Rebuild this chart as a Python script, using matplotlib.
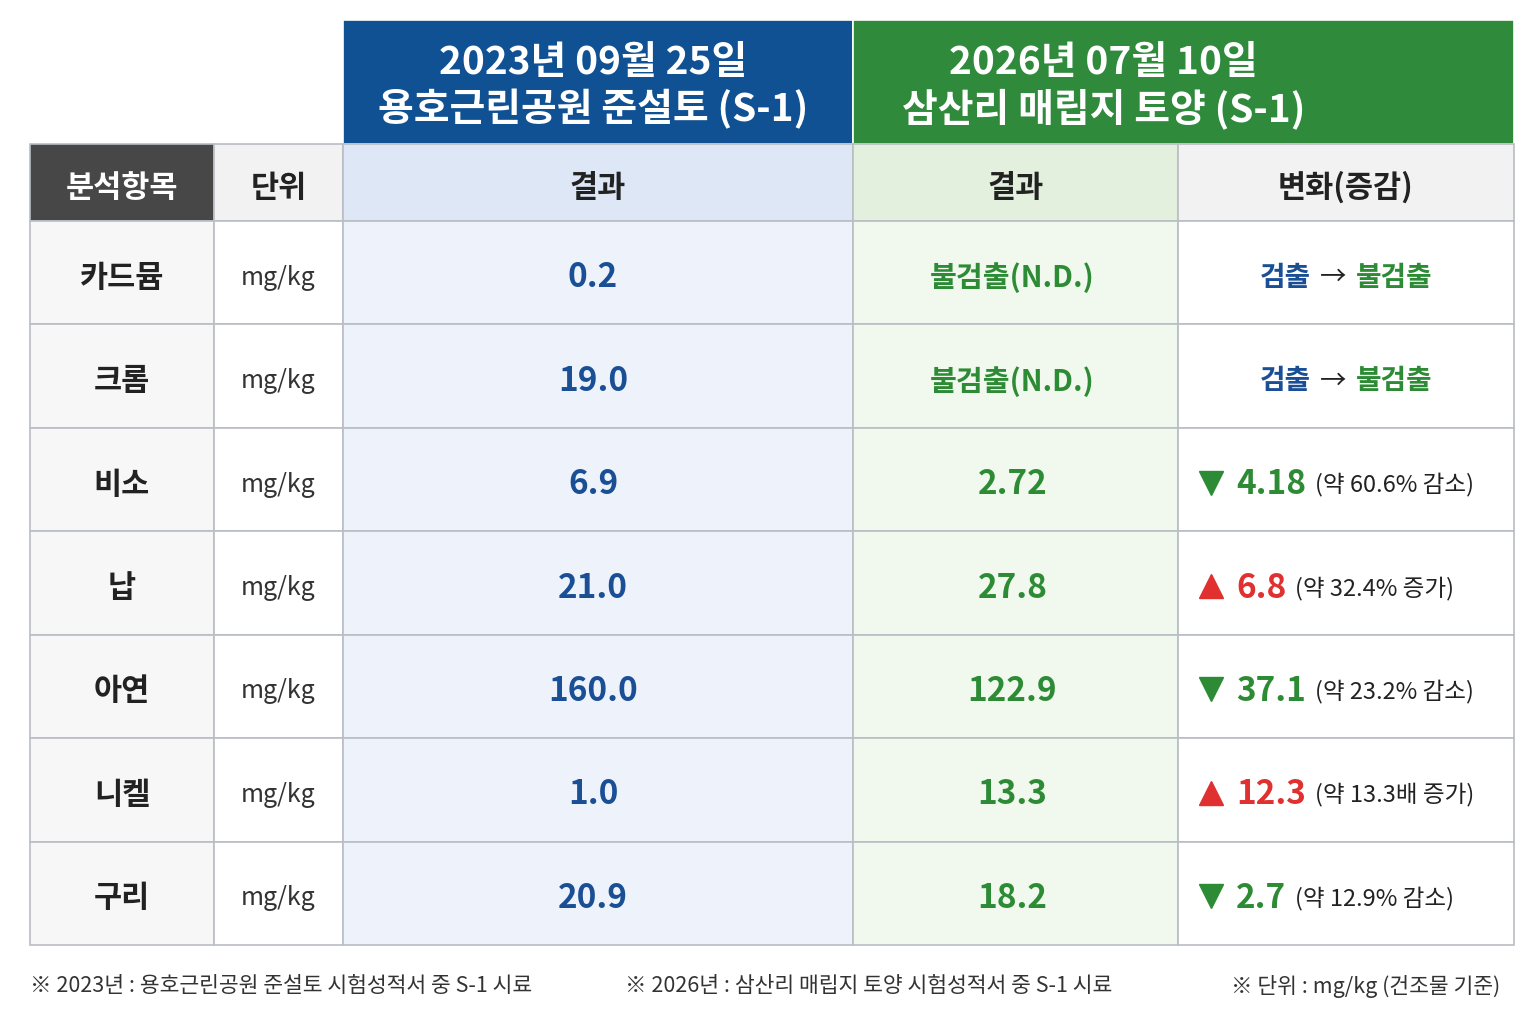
import matplotlib
matplotlib.use("Agg")
import matplotlib.pyplot as plt
from matplotlib.patches import Rectangle

plt.rcParams['font.family'] = ['Noto Sans CJK KR', 'DejaVu Sans']

items = ["카드뮴", "크롬", "비소", "납", "아연", "니켈", "구리"]
units = ["mg/kg"] * 7
values_2023 = ["0.2", "19.0", "6.9", "21.0", "160.0", "1.0", "20.9"]
values_2026 = ["불검출(N.D.)", "불검출(N.D.)", "2.72", "27.8", "122.9", "13.3", "18.2"]
change_dir = ["nd", "nd", "down", "up", "down", "up", "down"]
change_amt = ["", "", "4.18", "6.8", "37.1", "12.3", "2.7"]
change_note = ["", "", "(약 60.6% 감소)", "(약 32.4% 증가)", "(약 23.2% 감소)", "(약 13.3배 증가)", "(약 12.9% 감소)"]
head_2023 = "2023년 09월 25일\n용호근린공원 준설토 (S-1)"
head_2026 = "2026년 07월 10일\n삼산리 매립지 토양 (S-1)"
sub_heads = ["분석항목", "단위", "결과", "결과", "변화(증감)"]
footnotes = ["※ 2023년 : 용호근린공원 준설토 시험성적서 중 S-1 시료",
             "※ 2026년 : 삼산리 매립지 토양 시험성적서 중 S-1 시료",
             "※ 단위 : mg/kg (건조물 기준)"]

BLUE = "#0f5192"
GREEN = "#2f8a3c"
TBLUE = "#1a4f96"
TGREEN = "#2e8b35"
RED = "#e03030"
LINE = "#b9bec4"
DY = 5

fig = plt.figure(figsize=(15.36, 10.24), dpi=100)
ax = fig.add_axes([0, 0, 1, 1])
ax.set_xlim(0, 1536)
ax.set_ylim(1024, 0)
ax.axis("off")

cols = [30, 214, 343, 853, 1178, 1514]
top1, top2, top3, bottom = 20, 144, 221, 945
row_h = (bottom - top3) / len(items)

def rect(x0, y0, x1, y1, fc, ec=LINE, lw=1.2):
    ax.add_patch(Rectangle((x0, y0), x1 - x0, y1 - y0, facecolor=fc, edgecolor=ec, lw=lw))

# top header
rect(cols[2], top1, cols[3], top2, BLUE, ec="white")
rect(cols[3], top1, cols[5], top2, GREEN, ec="white")
ax.text((cols[2] + cols[3]) / 2 - 5, (top1 + top2) / 2 + 4, head_2023, color="white", fontsize=28,
        fontweight="bold", ha="center", va="center", linespacing=1.2)
ax.text((cols[3] + cols[5]) / 2 - 80, (top1 + top2) / 2 + 4, head_2026, color="white", fontsize=28,
        fontweight="bold", ha="center", va="center", linespacing=1.2)

sub_fc = ["#474747", "#f2f2f2", "#dde7f5", "#e4f0de", "#f2f2f2"]
body_fc = ["#f7f7f7", "white", "#eef3fb", "#f1f8ee", "white"]
for i in range(5):
    rect(cols[i], top2, cols[i + 1], top3, sub_fc[i])
    ax.text((cols[i] + cols[i + 1]) / 2, (top2 + top3) / 2 + DY, sub_heads[i],
            color="white" if i == 0 else "#222", fontsize=22, fontweight="bold", ha="center", va="center")
    for r in range(len(items)):
        y0 = top3 + r * row_h
        rect(cols[i], y0, cols[i + 1], y0 + row_h, body_fc[i])

fig.canvas.draw()
renderer = fig.canvas.get_renderer()
inv = ax.transData.inverted()

def width_of(t):
    bb = t.get_window_extent(renderer)
    p0 = inv.transform((bb.x0, bb.y0))
    p1 = inv.transform((bb.x1, bb.y0))
    return p1[0] - p0[0]

def put_parts(x, y, parts, center=False):
    texts = []
    for s, c, fs, fw in parts:
        texts.append(ax.text(x, y, s, color=c, fontsize=fs, fontweight=fw, ha="left", va="center"))
    widths = [width_of(t) for t in texts]
    gap = 9
    total = sum(widths) + gap * (len(widths) - 1)
    cx = x - total / 2 if center else x
    for t, w in zip(texts, widths):
        t.set_x(cx)
        cx += w + gap

for r in range(len(items)):
    y = top3 + (r + 0.5) * row_h + DY
    ax.text((cols[0] + cols[1]) / 2, y, items[r], fontsize=22, fontweight="bold", color="#222",
            ha="center", va="center")
    ax.text((cols[1] + cols[2]) / 2, y, units[r], fontsize=18, color="#333", ha="center", va="center")
    ax.text((cols[2] + cols[3]) / 2 - 5, y, values_2023[r], fontsize=24, fontweight="bold", color=TBLUE,
            ha="center", va="center")
    nd = change_dir[r] == "nd"
    ax.text((cols[3] + cols[4]) / 2 - 3, y, values_2026[r], fontsize=21 if nd else 24, fontweight="bold",
            color=TGREEN, ha="center", va="center")
    if nd:
        put_parts((cols[4] + cols[5]) / 2, y, [("검출", TBLUE, 20, "bold"), ("→", "#222", 19, "normal"),
                                               ("불검출", TGREEN, 20, "bold")], center=True)
    else:
        up = change_dir[r] == "up"
        col = RED if up else TGREEN
        ax.plot(1211, y - 2, marker="^" if up else "v", color=col, markersize=17, linestyle="none")
        put_parts(1236, y, [(change_amt[r], col, 24, "bold"), (change_note[r], "#222", 17, "normal")])

ax.text(30, 986, footnotes[0], fontsize=15.5, color="#333", ha="left", va="center")
ax.text(625, 986, footnotes[1], fontsize=15.5, color="#333", ha="left", va="center")
ax.text(1500, 986, footnotes[2], fontsize=15.5, color="#333", ha="right", va="center")

fig.savefig("out.png", dpi=100)
